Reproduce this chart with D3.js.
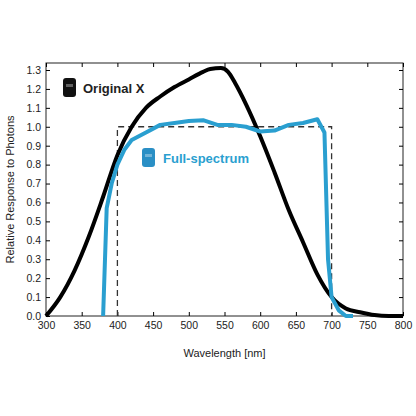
<!DOCTYPE html><html><head><script src="https://cdn.jsdelivr.net/npm/d3@7"></script>
<style>body{margin:0;background:#fff}</style></head><body><svg id="c" width="416" height="416"></svg>
<script>
const blackX=[300,320,340,360,380,400,420,440,460,480,500,520,530,545,555,565,580,600,620,640,660,680,700,720,740,760,780,800];
const blackY=[0,0.1,0.24,0.42,0.63,0.85,1.0,1.1,1.16,1.21,1.25,1.29,1.305,1.31,1.29,1.23,1.12,0.95,0.76,0.56,0.39,0.22,0.1,0.04,0.02,0.005,0,0];
const blueX=[380,385,392,400,410,420,440,460,480,500,520,540,560,580,600,620,640,660,680,690,695,700,710,720,730];
const blueY=[0,0.57,0.7,0.8,0.88,0.93,0.97,1.01,1.02,1.03,1.035,1.01,1.01,1.0,0.975,0.98,1.01,1.02,1.04,0.97,0.3,0.1,0.03,0,0];
const boxX=[400,400,700,700], boxY=[0,1,1,0];
const xTicks=d3.range(300,801,50), yTicks=d3.range(0,1.31,0.1);
const svg=d3.select("#c");
const L=46,R=403,T=63,B=316;
const x=d3.scaleLinear([300,800],[L,R]), y=d3.scaleLinear([0,1.337],[B,T]);
svg.append("rect").attr("x",L).attr("y",T).attr("width",R-L).attr("height",B-T).attr("fill","none").attr("stroke","#222").attr("stroke-width",1);
const f="Arial, Liberation Sans, sans-serif";
svg.append("g").attr("transform",`translate(0,${B})`).call(d3.axisBottom(x).tickValues(xTicks).tickSize(-4).tickPadding(6));
svg.append("g").attr("transform",`translate(${L},0)`).call(d3.axisLeft(y).tickValues(yTicks).tickFormat(d3.format(".1f")).tickSize(-4).tickPadding(5));
svg.append("g").attr("transform",`translate(0,${T})`).call(d3.axisTop(x).tickValues(xTicks).tickSize(-4).tickFormat(""));
svg.append("g").attr("transform",`translate(${R},0)`).call(d3.axisRight(y).tickValues(yTicks).tickSize(-4).tickFormat(""));
svg.selectAll(".domain").remove();
svg.selectAll(".tick text").attr("font-family",f).attr("font-size",10.5).attr("fill","#222");
const ln=d3.line().x(d=>x(d[0])).y(d=>y(d[1]));
svg.append("path").datum(boxX.map((v,i)=>[v,boxY[i]])).attr("d",ln).attr("fill","none").attr("stroke","#333").attr("stroke-width",1.3).attr("stroke-dasharray","6,4");
svg.append("path").datum(blackX.map((v,i)=>[v,blackY[i]])).attr("d",d3.line().x(d=>x(d[0])).y(d=>y(d[1])).curve(d3.curveMonotoneX)).attr("fill","none").attr("stroke","#000").attr("stroke-width",4);
svg.append("path").datum(blueX.map((v,i)=>[v,blueY[i]])).attr("d",ln).attr("fill","none").attr("stroke","#2a9fd0").attr("stroke-width",4).attr("stroke-linejoin","round");
function icon(cx,cy,col){svg.append("rect").attr("x",cx).attr("y",cy).attr("width",13).attr("height",19).attr("rx",3).attr("fill",col);
svg.append("rect").attr("x",cx+3).attr("y",cy+6).attr("width",7).attr("height",3).attr("fill","#ffffff55");}
icon(63,78,"#111");icon(142,148,"#2a8fc5");
svg.append("text").attr("x",83).attr("y",93).text("Original X").attr("font-family",f).attr("font-weight","bold").attr("font-size",13).attr("fill","#222");
svg.append("text").attr("x",163).attr("y",163).text("Full-spectrum").attr("font-family",f).attr("font-weight","bold").attr("font-size",13).attr("fill","#2a9fd0");
svg.append("text").attr("x",(L+R)/2).attr("y",357).attr("text-anchor","middle").text("Wavelength [nm]").attr("font-family",f).attr("font-size",11).attr("fill","#222");
svg.append("text").attr("transform",`translate(14,${(T+B)/2}) rotate(-90)`).attr("text-anchor","middle").text("Relative Response to Photons").attr("font-family",f).attr("font-size",11).attr("fill","#222");
</script></body></html>
